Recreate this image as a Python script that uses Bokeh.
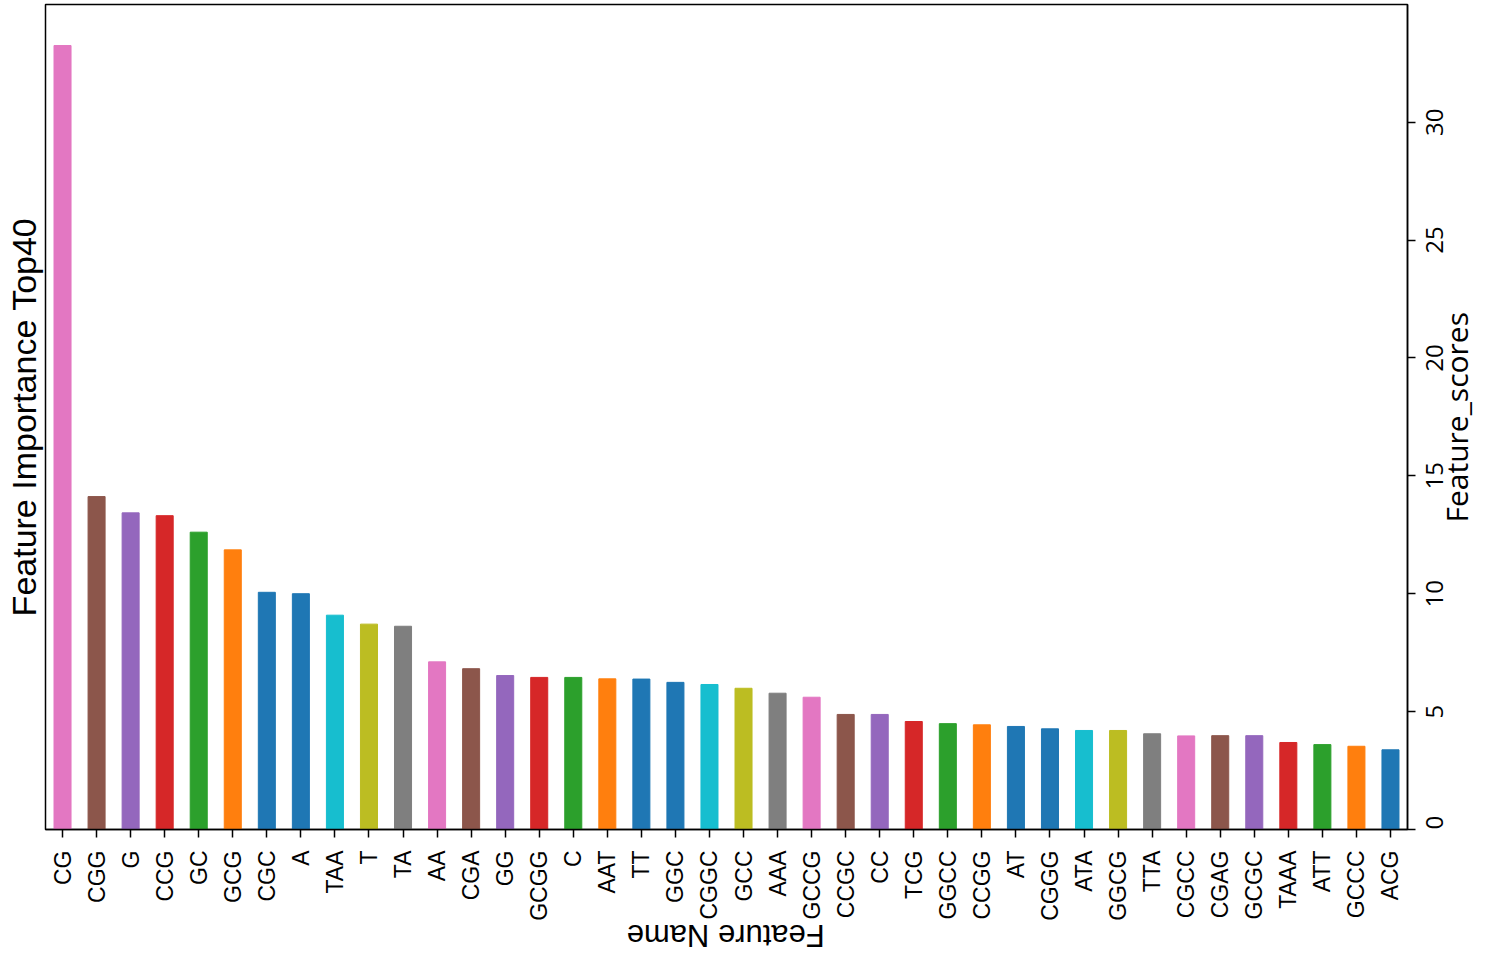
import math
from bokeh.plotting import figure
from bokeh.models import (FixedTicker, Range1d, ColumnDataSource, LinearAxis, Title,
                          CustomLabelingPolicy)
from bokeh.embed import file_html
from bokeh.resources import INLINE

features = ["CG", "CGG", "G", "CCG", "GC", "GCG", "CGC", "A", "TAA", "T",
            "TA", "AA", "CGA", "GG", "GCGG", "C", "AAT", "TT", "GGC", "CGGC",
            "GCC", "AAA", "GCCG", "CCGC", "CC", "TCG", "GGCC", "CCGG", "AT", "CGGG",
            "ATA", "GGCG", "TTA", "CGCC", "CGAG", "GCGC", "TAAA", "ATT", "GCCC", "ACG"]
scores = [33.25, 14.12, 13.43, 13.31, 12.61, 11.86, 10.06, 10.00, 9.09, 8.71,
          8.62, 7.11, 6.82, 6.53, 6.45, 6.45, 6.39, 6.38, 6.24, 6.15,
          5.99, 5.78, 5.61, 4.88, 4.88, 4.58, 4.49, 4.44, 4.37, 4.27,
          4.20, 4.20, 4.06, 3.97, 3.98, 3.98, 3.69, 3.60, 3.53, 3.38]
colors = ["#e377c2", "#8c564b", "#9467bd", "#d62728", "#2ca02c", "#ff7f0e", "#1f77b4", "#1f77b4", "#17becf", "#bcbd22",
          "#7f7f7f", "#e377c2", "#8c564b", "#9467bd", "#d62728", "#2ca02c", "#ff7f0e", "#1f77b4", "#1f77b4", "#17becf",
          "#bcbd22", "#7f7f7f", "#e377c2", "#8c564b", "#9467bd", "#d62728", "#2ca02c", "#ff7f0e", "#1f77b4", "#1f77b4",
          "#17becf", "#bcbd22", "#7f7f7f", "#e377c2", "#8c564b", "#9467bd", "#d62728", "#2ca02c", "#ff7f0e", "#1f77b4"]
y_ticks = [0, 5, 10, 15, 20, 25, 30]
y_tick_labels = ["0", "5", "10", "15", "20", "25", "30"]
x_title = "Feature Name"
y_title = "Feature_scores"
chart_title = "Feature Importance Top40"

Y_END = 34.99
PX_PER_Y = 825.0 / Y_END          # frame height / y span
PX_PER_X = 1364.0 / 40.0          # frame width / category span
DIGIT_PX = 0.572 * 24             # Open Sans digit advance at 24px
X0 = -0.5

pos = list(range(len(features)))
src = ColumnDataSource(dict(x=pos, top=scores, color=colors))

p = figure(width=1500, height=973,
           x_range=Range1d(X0, len(features) + X0), y_range=Range1d(0, Y_END),
           y_axis_location="right", output_backend="svg", toolbar_location=None,
           min_border_left=43, min_border_right=93, min_border_top=4, min_border_bottom=144)
p.vbar(x="x", top="top", width=0.5, fill_color="color", line_color="color", source=src)

p.xgrid.visible = False
p.ygrid.visible = False
p.background_fill_color = "white"
p.border_fill_color = "white"
p.outline_line_color = "black"
p.outline_line_width = 1.5
p.outline_line_alpha = 1.0

# bottom category axis
xa = p.xaxis[0]
xa.ticker = FixedTicker(ticks=pos)
xa.major_label_overrides = {i: f for i, f in zip(pos, features)}
xa.major_label_orientation = math.pi / 2
xa.major_tick_out = 8
xa.major_tick_in = 0
xa.minor_tick_out = 0
xa.minor_tick_in = 0
xa.major_label_standoff = 13
xa.axis_line_width = 1.5
xa.major_tick_line_width = 1.5
xa.major_label_text_font = "Liberation Sans"
xa.major_label_text_font_size = "23px"
xa.major_label_text_color = "black"

# right axis: ticks only
ya = p.yaxis[0]
ya.ticker = FixedTicker(ticks=y_ticks)
ya.major_tick_out = 8
ya.major_tick_in = 0
ya.minor_tick_out = 0
ya.minor_tick_in = 0
ya.major_label_standoff = 0
ya.axis_line_width = 1.5
ya.major_tick_line_width = 1.5
ya.major_label_text_font_size = "0px"
ya.major_label_policy = CustomLabelingPolicy(code="""
try { for (const i of Array.from(indices)) indices.unset(i) } catch (e) {}
return indices
""")


def text_axis(ticks, overrides, orient, standoff, font, size):
    return LinearAxis(ticker=FixedTicker(ticks=ticks), major_label_overrides=overrides,
                      major_label_orientation=orient, major_label_standoff=standoff,
                      major_tick_out=0, major_tick_in=0, minor_tick_out=0, minor_tick_in=0,
                      axis_line_color=None, major_tick_line_color=None, minor_tick_line_color=None,
                      major_label_text_font=font, major_label_text_font_size=size,
                      major_label_text_color="black")


# right tick labels, centred on the ticks (text starts at the anchor)
lab_ticks = []
lab_over = {}
for v, t in zip(y_ticks, y_tick_labels):
    a = max(v - (len(t) * DIGIT_PX / 2.0) / PX_PER_Y, 0.0)
    lab_ticks.append(a)
    lab_over[a] = t
p.add_layout(text_axis(lab_ticks, lab_over, math.pi / 2, 19, "Open Sans", "24px"), "right")

# right axis title (reads bottom to top, starts at its anchor)
ys_anchor = (829 - 418 - 104) / PX_PER_Y
p.add_layout(text_axis([ys_anchor], {ys_anchor: y_title}, math.pi / 2, 2, "Open Sans", "30px"), "right")

# bottom title, upside down (glyphs run to the right of the anchor)
xn_anchor = X0 + (724 - 43 - 99) / PX_PER_X
p.add_layout(text_axis([xn_anchor], {xn_anchor: x_title}, math.pi, 12, "Liberation Sans", "31px"), "below")

# left chart title
p.add_layout(Title(text=chart_title, align="center", standoff=5,
                   text_font="Liberation Sans", text_font_size="34px",
                   text_font_style="normal", text_color="black"), "left")

open("out.html", "w").write(file_html(p, INLINE))
